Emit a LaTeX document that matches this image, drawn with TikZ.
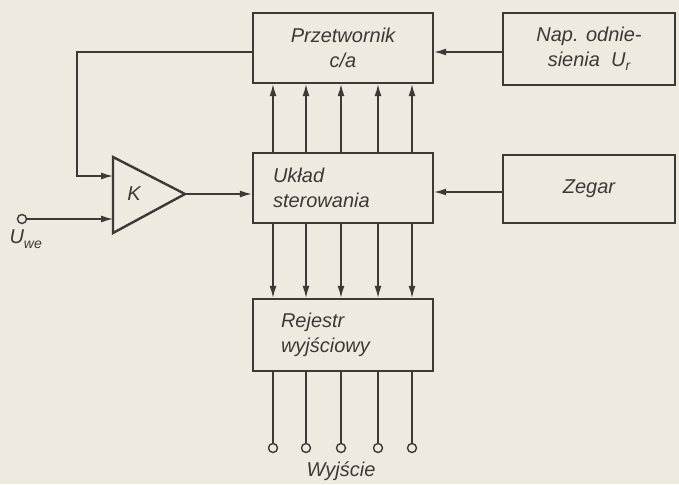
\documentclass[tikz,border=0pt]{standalone}
\usepackage{fontspec}
\setmainfont{Liberation Sans}
\usetikzlibrary{arrows.meta,calc}
\definecolor{paper}{HTML}{EEEADF}
\definecolor{ink}{HTML}{3A3A38}
\newcommand{\subsz}{\fontsize{14}{16}\selectfont}
\begin{document}
\begin{tikzpicture}[x=1pt,y=-1pt,
  blk/.style={draw=ink,line width=2.4pt,fill=paper,minimum width=180pt,minimum height=70pt,inner sep=0pt,font=\fontsize{20}{25}\selectfont\itshape,text=ink},
  wire/.style={draw=ink,line width=1.3pt},
  arr/.style={wire,-{Latex[length=12pt,width=7pt]}},
  term/.style={circle,draw=ink,line width=1.4pt,fill=paper,minimum size=9pt,inner sep=0pt},
  lbl/.style={font=\fontsize{20}{25}\selectfont\itshape,text=ink}]
\fill[paper] (0,0) rectangle (679,484);
\useasboundingbox (0,0) rectangle (679,484);
% blocks
\node[blk,align=center] (pc) at (343,48) {Przetwornik\\c/a};
\node[blk,minimum width=172pt,minimum height=72pt,align=center] (nap) at (589,49) {Nap. odnie-\\sienia\ \ U\raisebox{-0.35ex}{\subsz r}};
\node[blk,text width=140pt,align=left] (uk) at (343,188) {Układ\\sterowania};
\node[blk,minimum width=172pt,minimum height=68pt] (zeg) at (589,189) {Zegar};
\node[blk,minimum height=72pt,text width=124pt,align=left] (rej) at (343,335) {Rejestr\\wyjściowy};
% amplifier
\coordinate (at) at (113,157);
\coordinate (ab) at (113,233);
\coordinate (ao) at (185,194);
\draw[draw=ink,line width=2.4pt,line join=miter] (at) -- (ab) -- (ao) -- cycle;
\node[lbl] (k) at (134,194) {K};
\coordinate (inA) at (113,176);
\coordinate (inB) at (113,219);
% feedback
\coordinate (fb1) at (77,52);
\coordinate (fb2) at (77,176);
\draw[arr] (pc.west |- 0,52) -- (fb1) -- (fb2) -- (inA);
% input
\node[term] (uin) at (22,219) {};
\node[lbl,anchor=north west] (uwe) at (6,226) {U\raisebox{-0.45ex}{\subsz we}};
\draw[arr] (uin) -- (inB);
% amplifier to control
\draw[arr] (ao) -- (uk.west |- ao);
% reference and clock
\draw[arr] (nap.west |- 0,52) -- (pc.east |- 0,52);
\draw[arr] (zeg.west |- 0,192) -- (uk.east |- 0,192);
% buses
\foreach \i/\x in {1/273,2/306,3/341,4/378,5/412}{
  \coordinate (c\i) at (\x,0);
  \draw[arr] (uk.north -| c\i) -- (pc.south -| c\i);
  \draw[arr] (uk.south -| c\i) -- (rej.north -| c\i);
  \node[term] (o\i) at (\x,448) {};
  \draw[wire] (rej.south -| c\i) -- (o\i);
}
\node[lbl] (wy) at (341,471) {Wyjście};
\end{tikzpicture}
\end{document}
